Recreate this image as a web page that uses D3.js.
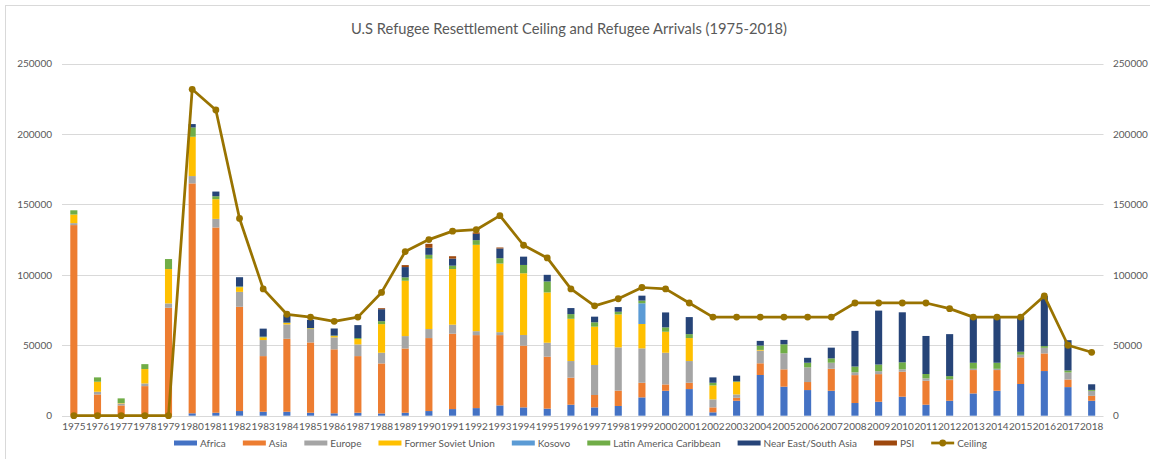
<!DOCTYPE html>
<html><head><meta charset="utf-8">
<script src="https://cdn.jsdelivr.net/npm/d3@7/dist/d3.min.js"></script>
<style>
html,body{margin:0;padding:0;background:#fff;}
svg{display:block;font-family:Lato,"Open Sans",sans-serif;}
</style></head>
<body><svg id="c" width="1150" height="459"></svg>
<script>
const years = d3.range(1975, 2019).map(String);
const seriesNames = ["Africa","Asia","Europe","Former Soviet Union","Kosovo","Latin America Caribbean","Near East/South Asia","PSI"];
const africa = [0,0,0,0,0,1700,2100,3300,2800,2800,2100,1700,2100,1600,2100,3300,4700,5400,7300,5900,5000,7800,5900,6900,13000,17700,18900,2400,10600,28900,20600,18200,17700,9000,9900,13500,7800,10600,15800,17700,22500,31700,20300,10600];
const asia = [135300,15100,7300,21000,76600,163200,131500,74000,39500,51800,49900,45400,40200,35500,45600,51800,53500,51800,49900,43800,36900,19200,8800,10900,10400,4500,4500,3500,2100,8300,12300,5700,15600,19800,19600,17700,17000,14700,16600,14700,18900,12500,5400,3500];
const europe = [1400,1900,1400,1900,3100,5200,6100,10600,11400,10200,9500,8500,8300,7600,8800,6400,6400,2800,2100,7600,9900,11800,21300,30700,24400,22500,15400,5700,2400,9000,11400,10400,4300,2000,2100,1700,1700,700,900,900,1900,4000,5000,3500];
const fsu = [6100,7100,300,10200,24400,27900,14000,3300,1900,1000,500,900,3800,20300,39300,49900,39500,61300,48700,43800,35700,30000,27200,23400,17300,14900,16300,9900,8800,500,0,0,0,0,0,0,0,0,0,0,0,0,0,0];
const kosovo = [0,0,0,0,0,0,0,0,0,0,0,0,0,0,0,0,0,0,0,0,0,0,0,0,14700,0,0,0,0,0,0,0,0,0,0,0,0,0,0,0,0,0,0,0];
const lac = [3000,3100,3300,3500,7100,6600,2100,500,500,300,200,400,700,2100,2400,2800,2400,3300,3800,5900,7800,3300,3100,1900,1900,3100,2800,1900,500,3100,6400,3300,3100,4100,4700,5000,3100,2100,4300,4300,2100,1200,1400,700];
const nesa = [0,0,0,0,0,2400,3300,6600,5700,5300,5900,5000,9200,8500,7300,5000,5000,4500,6900,5900,4700,4300,4000,3300,3500,10600,12100,3800,4000,3300,3100,3500,7600,25300,38300,35500,27000,29800,32600,32600,24800,35700,21500,4000];
const psi = [0,0,0,0,0,0,0,0,0,0,0,0,0,700,1400,2800,1700,1000,700,0,0,0,0,0,0,0,0,0,0,0,0,0,0,0,0,0,0,0,0,0,0,0,0,0];
const ceiling = [0,0,0,0,0,231700,217000,140000,90000,72000,70000,67000,70000,87500,116500,125000,131000,132000,142000,121000,112000,90000,78000,83000,91000,90000,80000,70000,70000,70000,70000,70000,70000,80000,80000,80000,80000,76000,70000,70000,70000,85000,50000,45000];
const yTicks = [0,50000,100000,150000,200000,250000];
const titleText = "U.S Refugee Resettlement Ceiling and Refugee Arrivals (1975-2018)";

const colors = ["#4472C4","#ED7D31","#A5A5A5","#FFC000","#5B9BD5","#70AD47","#264478","#9E480E"];
const lineColor = "#997300";
const textColor = "#595959";

const seriesData = [africa,asia,europe,fsu,kosovo,lac,nesa,psi];
const rows = years.map((y,i)=>{ const r={year:y}; seriesNames.forEach((s,k)=>r[s]=seriesData[k][i]); return r; });
const stacked = d3.stack().keys(seriesNames)(rows);

const svg = d3.select("#c");
const L=62, R=1103.5, T=63.5, B=415.7;

svg.append("rect").attr("x",5.5).attr("y",5.5).attr("width",1160).attr("height",470)
  .attr("fill","none").attr("stroke","#d9d9d9");

const x = d3.scaleBand().domain(years).range([L,R]).paddingInner(0.7).paddingOuter(0.35);
const y = d3.scaleLinear().domain([0,250000]).range([B,T]);

// gridlines
svg.append("g").selectAll("line").data(yTicks).join("line")
  .attr("x1",L).attr("x2",R).attr("y1",d=>Math.round(y(d))+0.5).attr("y2",d=>Math.round(y(d))+0.5)
  .attr("stroke","#d9d9d9").attr("stroke-width",1);

// axes labels
const yl = d3.axisLeft(y).tickValues(yTicks).tickSize(0).tickPadding(0).tickFormat(d3.format("d"));
const gl = svg.append("g").attr("transform",`translate(${L-10},0)`).call(yl);
const yr = d3.axisRight(y).tickValues(yTicks).tickSize(0).tickPadding(0).tickFormat(d3.format("d"));
const gr = svg.append("g").attr("transform",`translate(${R+9.5},0)`).call(yr);
const xa = d3.axisBottom(x).tickSize(0).tickPadding(0);
const gx = svg.append("g").attr("transform",`translate(0,${B+7})`).call(xa);
[gl,gr,gx].forEach(g=>{ g.select(".domain").remove();
  g.selectAll("text").attr("fill",textColor).style("font-size","10px").style("font-family","Lato"); });

// bars
svg.append("g").selectAll("g").data(stacked).join("g").attr("fill",(d,i)=>colors[i])
  .selectAll("rect").data(d=>d).join("rect")
  .attr("x",d=>x(d.data.year)).attr("width",x.bandwidth())
  .attr("y",d=>y(d[1])).attr("height",d=>Math.max(0,y(d[0])-y(d[1])));

// ceiling line
const cx = (d,i)=>x(years[i])+x.bandwidth()/2;
svg.append("path").datum(ceiling)
  .attr("d",d3.line().x(cx).y(d=>y(d)))
  .attr("fill","none").attr("stroke",lineColor).attr("stroke-width",2.75).attr("stroke-linejoin","round");
svg.append("g").selectAll("circle").data(ceiling).join("circle")
  .attr("cx",cx).attr("cy",d=>y(d)).attr("r",3.4).attr("fill",lineColor);

// title
svg.append("text").attr("x",569).attr("y",34).attr("text-anchor","middle")
  .attr("fill",textColor).style("font-size","14.7px").text(titleText);

// legend
const legendItems = seriesNames.map((s,i)=>({name:s,color:colors[i],type:"bar"})).concat([{name:"Ceiling",color:lineColor,type:"line"}]);
const lg = svg.append("g");
let cur = 0;
const ly = 443;
legendItems.forEach(it=>{
  const g = lg.append("g").attr("transform",`translate(${cur},0)`);
  if(it.type==="bar"){
    g.append("rect").attr("x",0).attr("y",ly-2.5).attr("width",23).attr("height",5).attr("fill",it.color);
  } else {
    g.append("line").attr("x1",0).attr("x2",23).attr("y1",ly).attr("y2",ly).attr("stroke",it.color).attr("stroke-width",2.75);
    g.append("circle").attr("cx",11.5).attr("cy",ly).attr("r",3.4).attr("fill",it.color);
  }
  const t = g.append("text").attr("x",26).attr("y",ly+3.5).attr("fill",textColor).style("font-size","10px").text(it.name);
  cur += 26 + t.node().getComputedTextLength() + 17;
});
const total = cur - 17;
lg.attr("transform",`translate(${(174+987)/2 - total/2},0)`);
</script></body></html>
